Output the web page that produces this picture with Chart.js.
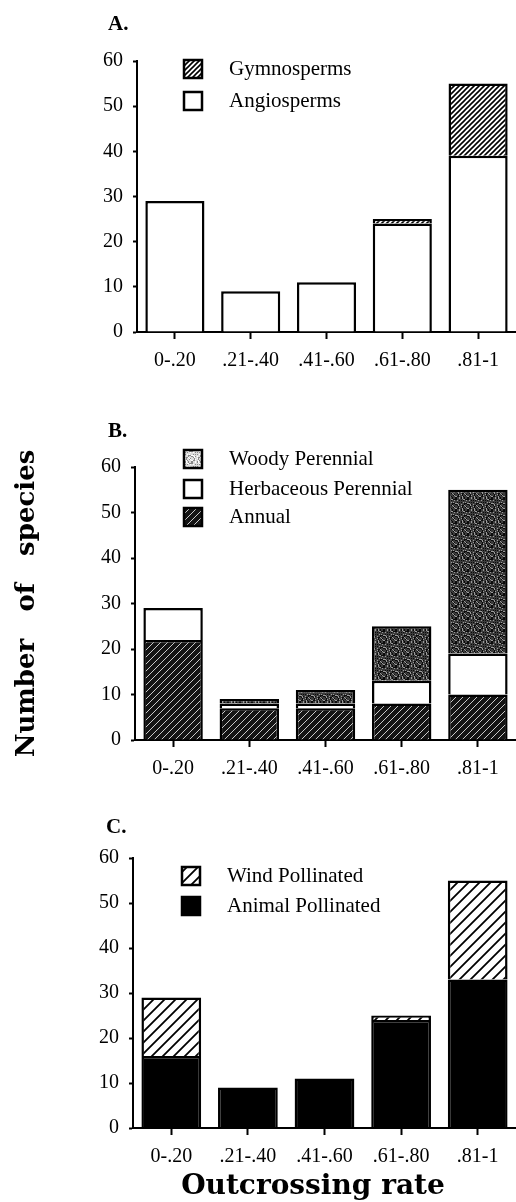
<!DOCTYPE html>
<html><head><meta charset="utf-8">
<script src="https://cdn.jsdelivr.net/npm/chart.js@4"></script>
<style>
html,body{margin:0;padding:0;background:#fff;}
body{width:516px;height:1202px;position:relative;overflow:hidden;}
.p{position:absolute;left:0;width:516px;}
</style></head><body>
<div class="p" style="top:0;height:390px"><canvas id="cA"></canvas></div>
<div class="p" style="top:390px;height:400px"><canvas id="cB"></canvas></div>
<div class="p" style="top:790px;height:412px"><canvas id="cC"></canvas></div>
<script>
// ---- data ----
const categories = ['0-.20', '.21-.40', '.41-.60', '.61-.80', '.81-1'];
const yTicks = [0, 10, 20, 30, 40, 50, 60];
// Panel A
const angiosperms = [29, 9, 11, 24, 39];
const gymnosperms = [0, 0, 0, 1, 16];
// Panel B
const annual = [22, 7, 7, 8, 10];
const herbaceousPerennial = [7, 1, 1, 5, 9];
const woodyPerennial = [0, 1, 3, 12, 36];
// Panel C
const animalPollinated = [16, 9, 11, 24, 33];
const windPollinated = [13, 0, 0, 1, 22];

// ---- fill patterns (style only) ----
function hatch(size, lw, fg, bg) {
  const c = document.createElement('canvas');
  c.width = size; c.height = size;
  const g = c.getContext('2d');
  g.fillStyle = bg; g.fillRect(0, 0, size, size);
  g.strokeStyle = fg; g.lineWidth = lw;
  g.beginPath();
  g.moveTo(0, size); g.lineTo(size, 0);
  g.moveTo(-size / 2, size / 2); g.lineTo(size / 2, -size / 2);
  g.moveTo(size / 2, size * 1.5); g.lineTo(size * 1.5, size / 2);
  g.stroke();
  return g.createPattern(c, 'repeat');
}
function stipple(base, dark, light) {
  const s = 12;
  const c = document.createElement('canvas');
  c.width = s; c.height = s;
  const g = c.getContext('2d');
  g.fillStyle = base; g.fillRect(0, 0, s, s);
  for (let y = 0; y < s; y++) for (let x = 0; x < s; x++) {
    const v = (x * 7 + y * 13 + x * y * 5) % 11;
    if (v < 3) { g.fillStyle = dark; g.fillRect(x, y, 1, 1); }
    else if (v > 8) { g.fillStyle = light; g.fillRect(x, y, 1, 1); }
  }
  return g.createPattern(c, 'repeat');
}
const gymnoFill = hatch(5, 1.6, '#000', '#fff');
const windFill = hatch(11, 1.8, '#000', '#fff');
const annualFill = hatch(7, 1, '#c8c8c8', '#141414');
const woodyFill = stipple('#3c3c3c', '#0a0a0a', '#9a9a9a');
const woodyLegend = stipple('#ddd', '#888', '#fff');

// ---- panel decorations: letter + legend (+ optional free-standing label) ----
const panelPlugin = {
  id: 'panel',
  afterDraw(chart, args, o) {
    const ctx = chart.ctx;
    ctx.save();
    ctx.fillStyle = '#000';
    ctx.textBaseline = 'middle';
    ctx.textAlign = 'left';
    ctx.font = 'bold 21px "Liberation Serif"';
    ctx.fillText(o.letter, o.letterX, o.letterY);
    ctx.font = '21px "Liberation Serif"';
    const ds = chart.data.datasets.slice().reverse();
    ds.forEach((d, i) => {
      const y = o.rows[i];
      ctx.fillStyle = d.legendFill || d.backgroundColor;
      ctx.fillRect(o.boxX, y - o.box / 2, o.box, o.box);
      ctx.lineWidth = 2.5; ctx.strokeStyle = '#000';
      ctx.strokeRect(o.boxX + 1, y - o.box / 2 + 1, o.box - 2, o.box - 2);
      ctx.fillStyle = '#000';
      ctx.fillText(d.label, o.textX, y);
    });
    if (o.axisLabel) {
      const a = o.axisLabel;
      ctx.font = a.font;
      ctx.textAlign = 'center';
      ctx.fillText(a.text, a.x, a.y);
    }
    ctx.restore();
  }
};

const tickFont = { family: 'Liberation Serif', size: 20 };

function makeChart(id, datasets, o) {
  return new Chart(document.getElementById(id), {
    type: 'bar',
    data: { labels: categories, datasets },
    options: {
      responsive: true, maintainAspectRatio: false, animation: false,
      layout: { padding: { top: o.top, left: 0, right: 0, bottom: 0 } },
      datasets: { bar: { categoryPercentage: 1, barPercentage: 0.78, borderColor: '#000', borderWidth: 2.5 } },
      plugins: { legend: { display: false }, tooltip: { enabled: false }, panel: o.panel },
      scales: {
        x: {
          stacked: true, offset: true,
          grid: { drawOnChartArea: false, offset: false, tickLength: 7, tickWidth: 2, tickColor: '#000' },
          border: { display: true, color: '#000', width: 2 },
          ticks: { color: '#000', font: tickFont, padding: 10, maxRotation: 0, autoSkip: false },
          afterFit: s => { s.height = o.xH; }
        },
        y: {
          stacked: true, min: 0, max: 60,
          afterBuildTicks: s => { s.ticks = yTicks.map(v => ({ value: v })); },
          grid: { drawOnChartArea: false, tickLength: 4, tickWidth: 2, tickColor: '#000' },
          border: { display: true, color: '#000', width: 2 },
          ticks: { color: '#000', font: tickFont, padding: 10 },
          title: o.yTitle || { display: false },
          afterFit: s => { s.width = o.yW; }
        }
      }
    },
    plugins: [panelPlugin]
  });
}

makeChart('cA', [
  { label: 'Angiosperms', data: angiosperms, backgroundColor: '#fff' },
  { label: 'Gymnosperms', data: gymnosperms, backgroundColor: gymnoFill }
], { top: 61, xH: 58, yW: 137,
     panel: { letter: 'A.', letterX: 108, letterY: 25, boxX: 183, box: 20, textX: 229, rows: [69, 101] } });

makeChart('cB', [
  { label: 'Annual', data: annual, backgroundColor: annualFill },
  { label: 'Herbaceous Perennial', data: herbaceousPerennial, backgroundColor: '#fff' },
  { label: 'Woody Perennial', data: woodyPerennial, backgroundColor: woodyFill, legendFill: woodyLegend }
], { top: 77, xH: 50, yW: 135,
     yTitle: { display: true, text: 'Number   of   species', color: '#000',
               font: { family: 'DejaVu Serif', weight: 'bold', size: 26 }, padding: { top: 12, bottom: 0 } },
     panel: { letter: 'B.', letterX: 108, letterY: 42, boxX: 183, box: 20, textX: 229, rows: [69, 99, 127] } });

makeChart('cC', [
  { label: 'Animal Pollinated', data: animalPollinated, backgroundColor: '#000' },
  { label: 'Wind Pollinated', data: windPollinated, backgroundColor: windFill }
], { top: 68, xH: 74, yW: 133,
     panel: { letter: 'C.', letterX: 106, letterY: 38, boxX: 181, box: 20, textX: 227, rows: [86, 116],
              axisLabel: { text: 'Outcrossing rate', x: 313, y: 397, font: 'bold 28px "DejaVu Serif"' } } });
</script>
</body></html>
